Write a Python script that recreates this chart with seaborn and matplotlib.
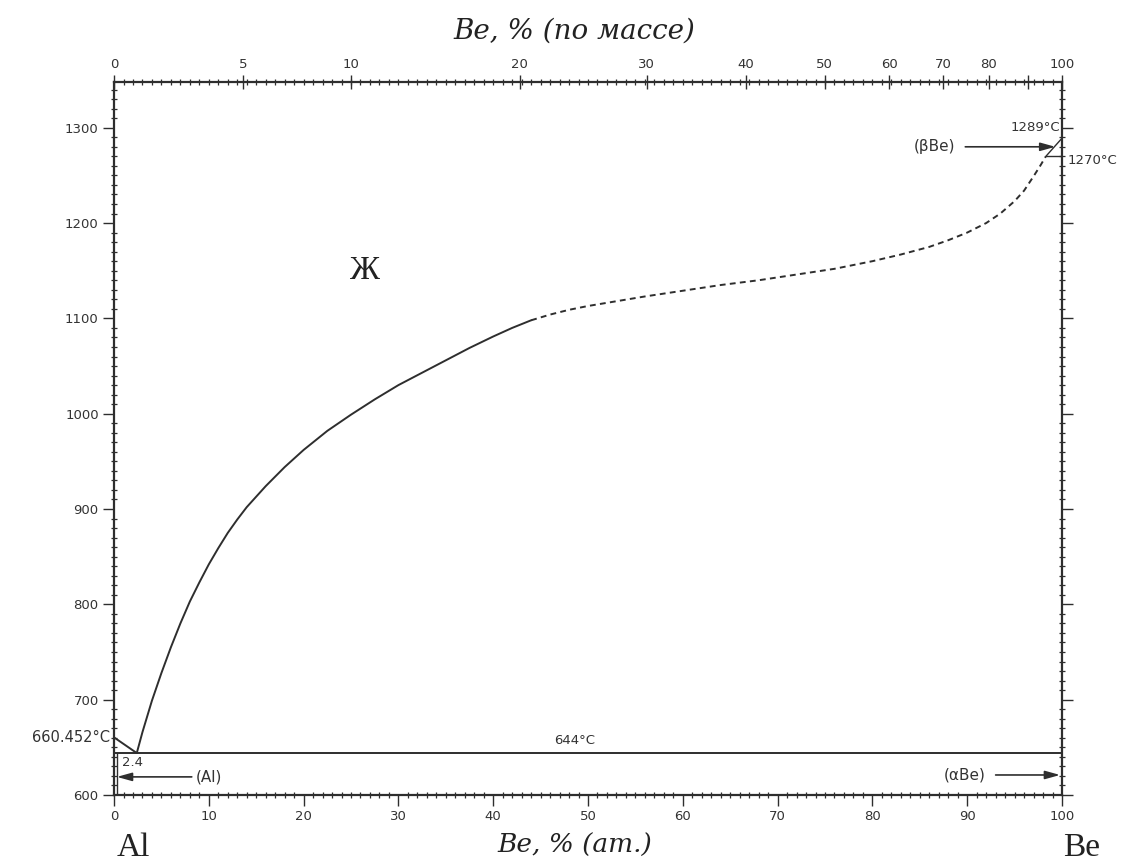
import numpy as np
import pandas as pd
import matplotlib
matplotlib.use("Agg")
import matplotlib.pyplot as plt
import seaborn as sns

# ---- data ----
al_liq_x = [0.0, 2.4]
al_liq_t = [660.452, 644.0]

liq_solid_x = [2.4, 3.0, 4.0, 5.0, 6.0, 7.0, 8.0, 9.0, 10.0, 11.0, 12.0, 13.0, 14.0, 16.0, 18.0, 20.0,
               22.5, 25.0, 27.5, 30.0, 32.5, 35.0, 37.5, 40.0, 42.0, 44.0]
liq_solid_t = [644, 666, 699, 728, 755, 780, 803, 823, 842, 859, 875, 889, 902, 924, 944, 962,
               982, 999, 1015, 1030, 1043, 1056, 1069, 1081, 1090, 1098]

liq_dash_x = [44.0, 46.0, 48.0, 50.0, 53.0, 56.0, 60.0, 64.0, 68.0, 72.0, 76.0, 80.0, 83.0,
              86.0, 88.0, 90.0, 92.0, 93.5, 95.0, 96.0, 97.0, 97.7, 98.3]
liq_dash_t = [1098, 1104, 1109, 1113, 1118, 1123, 1129, 1135, 1140, 1146, 1152, 1160, 1167,
              1175, 1182, 1190, 1200, 1210, 1223, 1234, 1249, 1260, 1270]

be_top_x = [98.3, 100.0]
be_top_t = [1270, 1289]
be_trans_x = [98.3, 100.0]
be_trans_t = [1270, 1270]

al_solvus_x = [0.3, 0.3]
al_solvus_t = [644, 600]

eutectic_x = [0.0, 100.0]
eutectic_t = [644, 644]

ytick_vals = [600, 700, 800, 900, 1000, 1100, 1200, 1300]
xtick_vals = [0, 10, 20, 30, 40, 50, 60, 70, 80, 90, 100]
wt_ticks = [0, 5, 10, 20, 30, 40, 50, 60, 70, 80, 90, 100]
wt_labels = ["0", "5", "10", "20", "30", "40", "50", "60", "70", "80", "", "100"]

M_AL, M_BE = 26.982, 9.012


def wt_to_at(w):
    w = np.asarray(w, dtype=float)
    nb = w / M_BE
    na = (100 - w) / M_AL
    return 100 * nb / (nb + na)


sns.set_style("white")
plt.rcParams["font.family"] = ["DejaVu Sans"]

fig = plt.figure(figsize=(11.38, 8.63), dpi=100)
ax = fig.add_axes([0.1002, 0.0788, 0.8330, 0.8262])

lc = "#2e2e2e"
tc = "#333333"
lw = 1.4


def draw(xs, ts, ls="-", lwid=lw):
    df = pd.DataFrame({"x": xs, "t": ts})
    sns.lineplot(data=df, x="x", y="t", ax=ax, color=lc, lw=lwid, linestyle=ls,
                 sort=False, estimator=None)


draw(al_liq_x, al_liq_t)
draw(liq_solid_x, liq_solid_t)
draw(liq_dash_x, liq_dash_t, ls=(0, (3.0, 2.2)))
draw(be_top_x, be_top_t, lwid=1.0)
draw(be_trans_x, be_trans_t, lwid=1.0)
draw(al_solvus_x, al_solvus_t, lwid=1.0)
draw(eutectic_x, eutectic_t)

ax.set_xlim(0, 100)
ax.set_ylim(600, 1348)
ax.set_xlabel("")
ax.set_ylabel("")

for s in ax.spines.values():
    s.set_color(lc)
    s.set_linewidth(1.6)

ax.set_xticks(xtick_vals)
ax.set_xticks(np.arange(0, 101, 1), minor=True)
ax.set_yticks(ytick_vals)
ax.set_yticks(np.arange(600, 1350, 10), minor=True)
ax.tick_params(axis="both", which="major", direction="out", length=8, width=1.0,
               colors=lc, labelsize=9.5, labelcolor=tc, pad=3)
ax.tick_params(axis="both", which="minor", direction="inout", length=4, width=0.9, colors=lc)
ax.tick_params(axis="y", which="both", left=True, right=True)
ax.tick_params(axis="x", which="both", bottom=True, top=False)

# top (mass %) axis
ax2 = ax.twiny()
ax2.set_xlim(0, 100)
ax2.set_xticks(wt_to_at(wt_ticks))
ax2.set_xticklabels(wt_labels)
ax2.set_xticks(np.arange(0, 101, 1), minor=True)
ax2.tick_params(axis="x", which="major", direction="inout", length=10, width=1.0,
                colors=lc, labelsize=9.5, labelcolor=tc, pad=3)
ax2.tick_params(axis="x", which="minor", direction="inout", length=4, width=0.9, colors=lc)
for s in ax2.spines.values():
    s.set_visible(False)

# axis titles
fig.text(0.505, 0.964, "Be, % (по массе)", ha="center", va="center",
         family="DejaVu Serif", style="italic", fontsize=20, color="#222222")
fig.text(0.505, 0.020, "Be, % (ат.)", ha="center", va="center",
         family="DejaVu Serif", style="italic", fontsize=19, color="#222222")
fig.text(0.117, 0.018, "Al", ha="center", va="center",
         family="Liberation Serif", fontsize=24, color="#222222")
fig.text(0.950, 0.018, "Be", ha="center", va="center",
         family="Liberation Serif", fontsize=24, color="#222222")

# annotations
small = dict(fontsize=9.5, color=tc)
ax.text(26.5, 1150, "Ж", fontsize=24, ha="center", va="center",
        family="Liberation Serif", color="#222222")
ax.text(-0.4, 660, "660.452°C", ha="right", va="center", clip_on=False,
        fontsize=10.5, color=tc)
ax.text(48.6, 650, "644°C", ha="center", va="bottom", **small)
ax.text(0.8, 634, "2.4", ha="left", va="center", **small)
ax.text(99.8, 1300, "1289°C", ha="right", va="center", **small)
ax.text(100.6, 1266, "1270°C", ha="left", va="center", clip_on=False, **small)

arrow = dict(arrowstyle="-|>,head_length=0.9,head_width=0.25", color=lc, lw=1.2,
             shrinkA=0, shrinkB=0)
lab = dict(fontsize=11, color=tc, va="center")
ax.annotate("", xy=(0.3, 619), xytext=(8.2, 619), arrowprops=arrow)
ax.text(8.6, 619, "(Al)", ha="left", **lab)
ax.annotate("", xy=(99.8, 621), xytext=(93.0, 621), arrowprops=arrow)
ax.text(89.7, 621, "(αBe)", ha="center", **lab)
ax.annotate("", xy=(99.3, 1280), xytext=(89.8, 1280), arrowprops=arrow)
ax.text(86.5, 1280, "(βBe)", ha="center", **lab)

fig.savefig("out.png", dpi=100, facecolor="white")
